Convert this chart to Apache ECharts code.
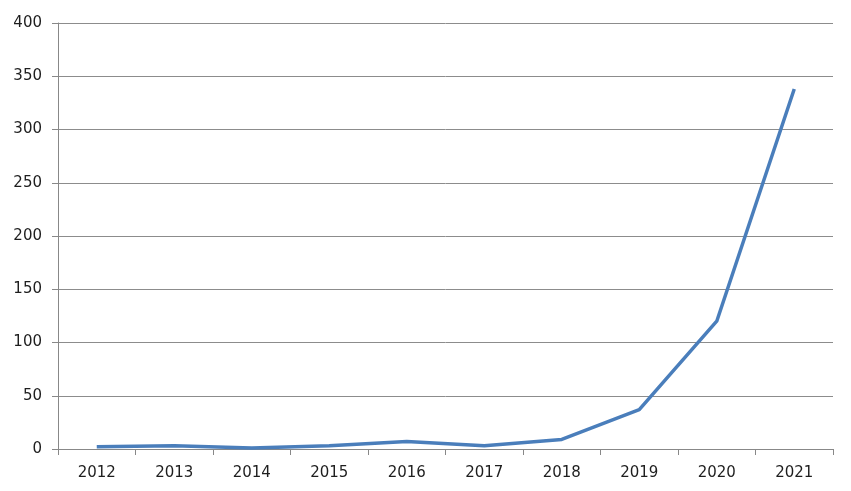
<!DOCTYPE html>
<html>
<head>
<meta charset="utf-8">
<script src="https://cdn.jsdelivr.net/npm/echarts@6/dist/echarts.min.js"></script>
<style>html,body{margin:0;padding:0;background:#fff}#c{width:851px;height:491px}</style>
</head>
<body>
<div id="c"></div>
<script>
var categories = ['2012','2013','2014','2015','2016','2017','2018','2019','2020','2021'];
var values = [2, 3, 1, 3, 7, 3, 9, 37, 120, 338];
var yMin = 0, yMax = 400, yStep = 50;

var chart = echarts.init(document.getElementById('c'), null, {renderer: 'canvas'});
chart.setOption({
  animation: false,
  backgroundColor: '#ffffff',
  grid: {left: 58, right: 18, top: 23, bottom: 42, containLabel: false},
  xAxis: {
    type: 'category',
    data: categories,
    boundaryGap: true,
    axisLine: {lineStyle: {color: '#888888', width: 1}},
    axisTick: {show: true, length: 6, alignWithLabel: false, lineStyle: {color: '#888888'}},
    axisLabel: {color: '#1e1e1e', fontSize: 15, fontFamily: 'DejaVu Sans', margin: 17},
    splitLine: {show: false}
  },
  yAxis: {
    type: 'value',
    min: yMin, max: yMax, interval: yStep,
    axisLine: {show: true, lineStyle: {color: '#888888', width: 1}},
    axisTick: {show: true, length: 6, lineStyle: {color: '#888888'}},
    axisLabel: {color: '#1e1e1e', fontSize: 15, fontFamily: 'DejaVu Sans', margin: 16},
    splitLine: {show: true, lineStyle: {color: '#8c8c8c', width: 1}}
  },
  series: [{
    type: 'line',
    data: values,
    symbol: 'none',
    lineStyle: {color: '#4a7ebb', width: 3.5},
    itemStyle: {color: '#4a7ebb'}
  }]
});
</script>
</body>
</html>
